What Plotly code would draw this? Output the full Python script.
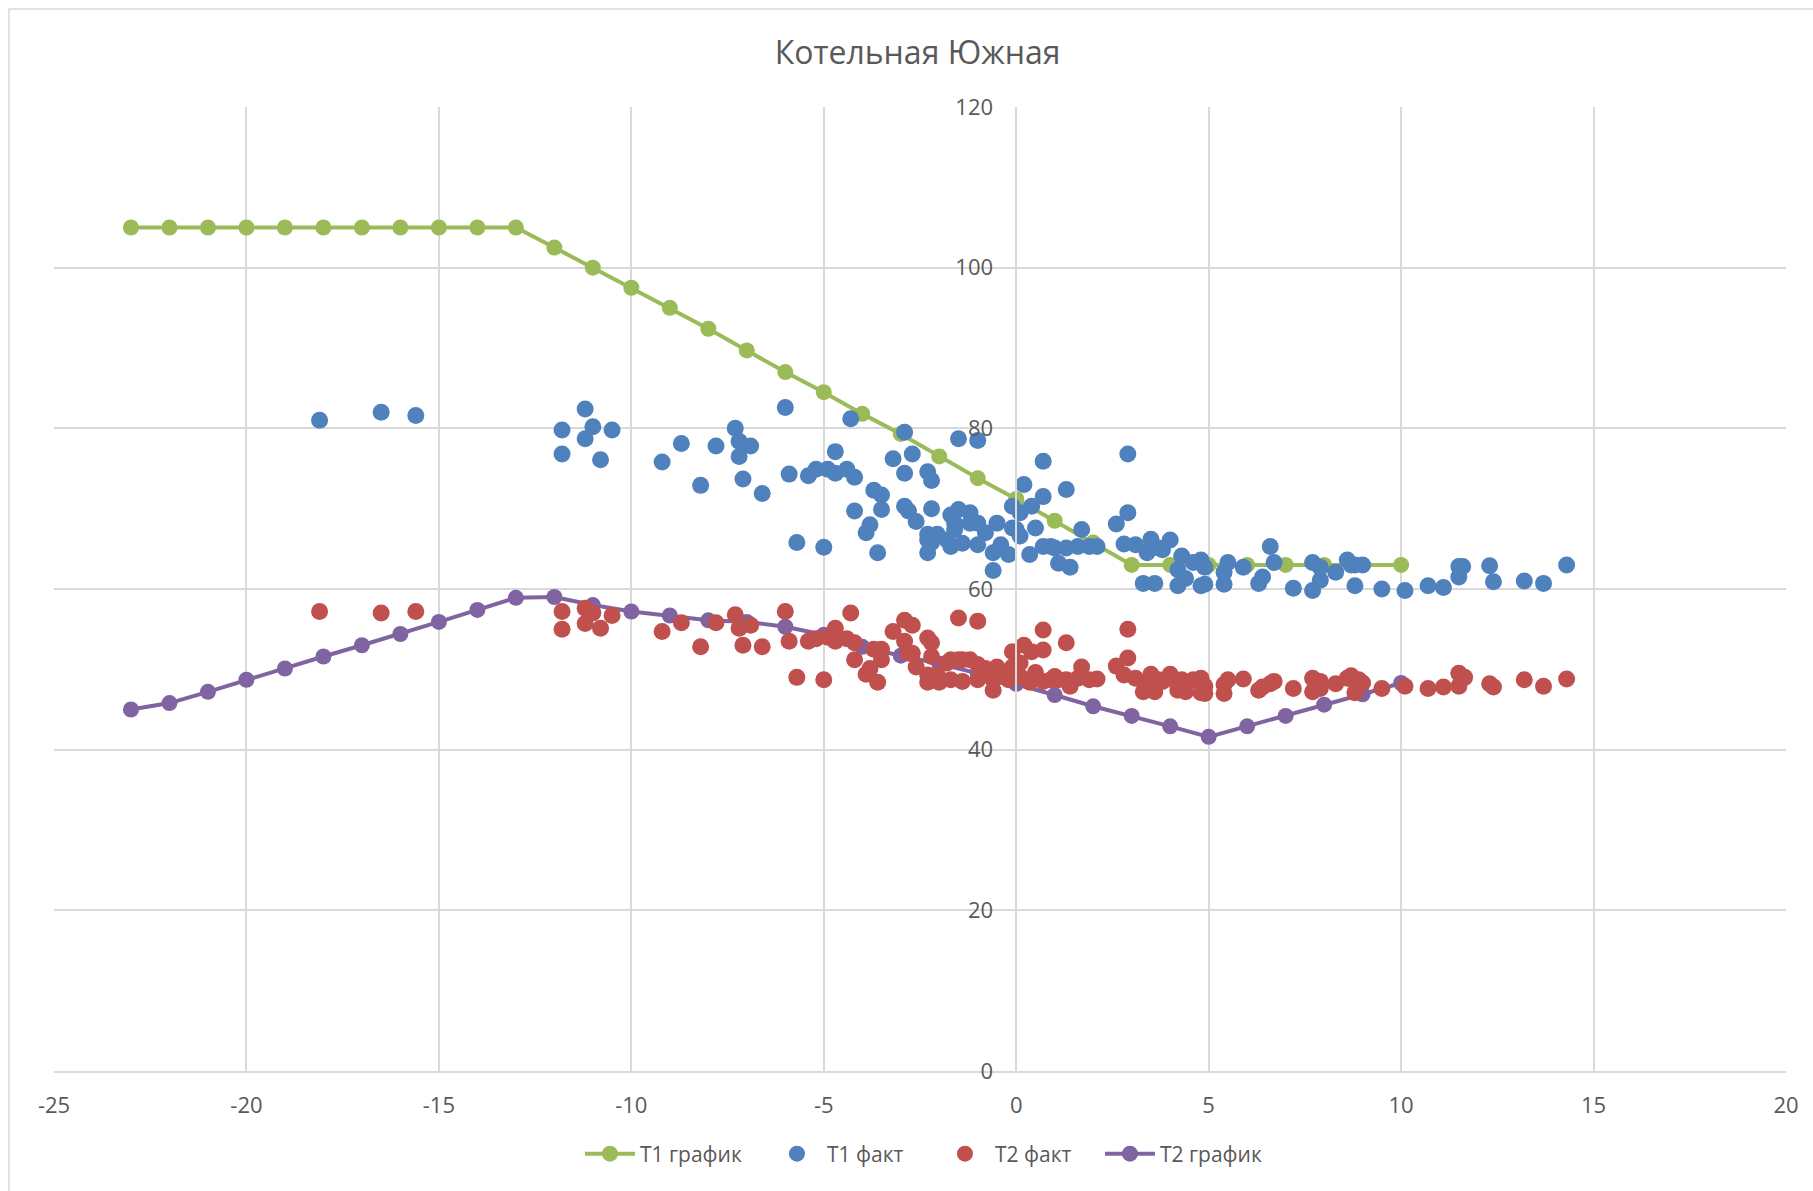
import plotly.graph_objects as go

# температурный график (по наружной температуре)
t_graph = list(range(-23, 11))
t1_graph = [105, 105, 105, 105, 105, 105, 105, 105, 105, 105, 105,
            102.5, 100, 97.5, 95, 92.4, 89.7, 87, 84.5, 81.8, 79.3,
            76.5, 73.8, 71.2, 68.5, 65.8, 63, 63, 63, 63, 63, 63, 63, 63]
t2_graph = [45, 45.8, 47.2, 48.7, 50.1, 51.6, 53.0, 54.4, 55.9, 57.4, 58.9,
            59.0, 58.0, 57.2, 56.7, 56.1, 55.9, 55.3, 54.3, 52.8, 51.7,
            50.7, 49.5, 48.2, 46.8, 45.4, 44.2, 42.9, 41.6, 42.9, 44.2, 45.6, 46.9, 48.3]

# фактические значения
t1_fact_x = [-18.1, -16.5, -15.6,
             -11.8, -11.8, -11.2, -11.0, -11.2, -10.8, -10.5,
             -9.2, -8.7, -8.2, -7.8, -7.3, -7.2, -7.2, -6.9, -7.1, -6.6, -6.0, -5.9, -5.4, -5.2, -4.9, -5.7, -5.0,
             -4.3, -4.7, -4.7, -4.4, -4.2, -4.2, -3.9, -3.8, -3.6, -3.7, -3.5, -3.5, -3.2, -2.9, -2.9, -2.7, -2.9,
             -2.8, -2.6, -2.3, -2.2, -2.2, -2.3, -2.05, -2.3, -2.2, -2.3, -1.7, -1.5, -1.5, -1.0, -1.2, -1.6, -1.6,
             -1.8, -1.7, -1.4, -1.2, -1.0, -1.0, -0.8, -0.6, -0.6, -0.5, -0.4, -0.2, -0.1, -0.1, 0.1, 0.2, 0.4,
             0.0, 0.1, 0.35, 0.5, 0.7, 0.7, 0.7, 0.9, 1.0, 1.1, 1.3, 1.3, 1.4, 1.6, 1.7, 1.9, 2.1,
             2.9, 2.9, 2.6, 2.8, 3.1, 3.5, 3.4, 3.7, 3.8, 4.0, 3.3, 3.6, 4.3, 4.2, 4.4, 4.2, 4.6, 4.8, 4.9, 4.8,
             4.9, 5.4, 5.4, 5.5, 5.9, 6.3, 6.4, 6.6, 6.7, 7.2, 7.7, 7.9, 7.9, 7.7, 8.3, 8.6, 8.8, 8.8, 8.7, 9.0,
             9.5, 10.1, 10.7, 11.1, 11.5, 11.5, 11.6, 12.3, 12.4, 13.2, 13.7, 14.3]
t1_fact_y = [81.0, 82.0, 81.6,
             79.8, 76.8, 82.4, 80.2, 78.7, 76.1, 79.8,
             75.8, 78.1, 72.9, 77.8, 80.0, 78.4, 76.5, 77.8, 73.7, 71.9, 82.6, 74.3, 74.1, 74.9, 74.9, 65.8, 65.2,
             81.2, 77.1, 74.4, 74.9, 73.9, 69.7, 67.0, 68.0, 64.5, 72.3, 71.7, 69.9, 76.2, 79.5, 74.4, 76.8, 70.3,
             69.7, 68.4, 74.6, 73.5, 70.0, 66.8, 66.8, 66.1, 65.8, 64.5, 69.2, 69.9, 78.7, 78.5, 69.5, 68.2, 67.4,
             66.1, 65.3, 65.7, 68.2, 68.2, 65.5, 67.0, 62.3, 64.5, 68.2, 65.5, 64.3, 70.3, 67.6, 69.5, 73.0, 70.3,
             67.4, 66.6, 64.3, 67.6, 71.5, 75.9, 65.3, 65.3, 65.1, 63.2, 72.4, 65.1, 62.7, 65.3, 67.4, 65.3, 65.3,
             76.8, 69.5, 68.1, 65.6, 65.5, 66.2, 64.5, 65.1, 64.9, 66.1, 60.7, 60.7, 64.1, 62.4, 61.3, 60.4, 63.3, 63.6, 62.7, 60.4,
             60.6, 60.6, 62.1, 63.3, 62.7, 60.7, 61.5, 65.3, 63.3, 60.1, 63.3, 62.7, 61.1, 59.8, 62.1, 63.6, 60.4, 63.0, 63.0, 63.0,
             60.0, 59.8, 60.4, 60.2, 61.5, 62.8, 62.8, 62.9, 60.9, 61.0, 60.7, 63.0]

t2_fact_x = [-18.1, -16.5, -15.6,
             -11.8, -11.8, -11.2, -11.0, -11.2, -10.8, -10.5,
             -9.2, -8.7, -8.2, -7.8, -7.3, -7.2, -6.9, -7.1, -6.6, -6.0, -5.9, -5.7, -5.0, -5.4, -5.2, -4.9,
             -4.7, -4.7, -4.4, -4.2, -4.3, -4.2,
             -3.9, -3.8, -3.6, -3.7, -3.5, -3.5, -3.2, -2.9, -2.7, -2.9, -2.8, -2.7, -2.6, -2.3, -2.2, -2.2,
             -2.3, -2.05, -2.3, -2.0, -1.8, -1.7, -1.5, -1.4, -1.7, -1.4, -1.5, -1.0, -1.2, -1.0, -1.0, -0.8,
             -0.6, -0.6, -0.5, -0.4, -0.1, -0.2, -0.1, 0.1, 0.2, 0.4, 0.0, 0.1, 0.35, 0.5, 0.7, 0.7, 0.7, 0.9,
             1.0, 1.1, 1.3, 1.3, 1.4, 1.6, 1.7, 1.9, 2.1,
             2.9, 2.9, 2.6, 2.8, 3.1, 3.5, 3.4, 3.3, 3.6, 3.7, 3.8, 4.0, 4.3, 4.2, 4.4, 4.2, 4.6, 4.8, 4.9, 4.9,
             4.8, 5.4, 5.4, 5.5, 5.9, 6.3, 6.4, 6.6, 6.7, 7.2, 7.7, 7.9, 7.9, 7.7, 8.3, 8.6, 8.8, 8.8, 8.7, 8.9, 9.0,
             9.5, 10.1, 10.7, 11.1, 11.5, 11.65, 11.5, 12.3, 12.4, 13.2, 13.7, 14.3]
t2_fact_y = [57.2, 57.0, 57.2,
             57.2, 55.0, 57.6, 57.0, 55.7, 55.1, 56.7,
             54.7, 55.8, 52.8, 55.8, 56.8, 55.1, 55.5, 53.0, 52.8, 57.2, 53.5, 49.0, 48.7, 53.5, 53.8, 54.0,
             55.1, 53.5, 53.8, 53.3, 57.0, 51.2,
             49.4, 50.1, 48.4, 52.5, 52.5, 51.2, 54.7, 56.1, 55.5, 53.5, 52.0, 52.0, 50.3, 53.9, 53.3, 51.6,
             49.3, 49.3, 48.4, 48.4, 50.8, 51.2, 51.2, 51.2, 48.7, 48.5, 56.4, 56.0, 51.2, 50.6, 48.7, 50.1,
             47.4, 48.7, 50.3, 49.1, 52.2, 48.7, 50.3, 50.8, 53.0, 52.2, 49.7, 49.1, 48.4, 49.6, 54.9, 52.4, 48.5, 48.7,
             49.1, 48.7, 53.3, 48.7, 47.9, 48.9, 50.3, 48.7, 48.8,
             55.0, 51.4, 50.4, 49.3, 48.9, 49.4, 48.1, 47.2, 47.2, 48.7, 48.5, 49.4, 48.7, 47.9, 47.2, 47.4, 48.7, 48.9, 47.9, 47.0,
             47.1, 47.0, 48.1, 48.7, 48.8, 47.4, 47.8, 48.2, 48.5, 47.6, 48.9, 48.5, 47.6, 47.2, 48.2, 48.9, 48.5, 47.1, 49.2, 48.7, 48.3,
             47.6, 47.9, 47.6, 47.8, 49.5, 49.0, 47.9, 48.2, 47.8, 48.7, 47.9, 48.8]

x_ticks = [-25, -20, -15, -10, -5, 0, 5, 10, 15, 20]
x_tick_labels = ["-25", "-20", "-15", "-10", "-5", "0", "5", "10", "15", "20"]

GREEN = "#9BBB59"
BLUE = "#4F81BD"
RED = "#C0504D"
PURPLE = "#8064A2"
GRID = "#D9D9D9"
TXT = "#595959"
FONT = "Open Sans"

fig = go.Figure()
fig.add_trace(go.Scatter(x=t_graph, y=t1_graph, name="Т1 график", mode="lines+markers",
                         line=dict(color=GREEN, width=4), marker=dict(color=GREEN, size=16),
                         legendrank=1, legendwidth=122))
fig.add_trace(go.Scatter(x=t_graph, y=t2_graph, name="Т2 график", mode="lines+markers",
                         line=dict(color=PURPLE, width=4), marker=dict(color=PURPLE, size=16),
                         legendrank=4))
fig.add_trace(go.Scatter(x=t1_fact_x, y=t1_fact_y, name="Т1 факт", mode="markers",
                         marker=dict(color=BLUE, size=17), legendrank=2, legendwidth=103))
fig.add_trace(go.Scatter(x=t2_fact_x, y=t2_fact_y, name="Т2 факт", mode="markers",
                         marker=dict(color=RED, size=17), legendrank=3, legendwidth=100))

fig.update_layout(
    width=1813, height=1191,
    margin=dict(l=54, r=27, t=107, b=120),
    paper_bgcolor="white", plot_bgcolor="white",
    font=dict(family=FONT, color=TXT, size=21),
    title=dict(text="Котельная Южная", xref="container", x=0.5061, xanchor="center",
               y=0.9555, yanchor="middle", font=dict(family=FONT, size=32, color=TXT)),
    legend=dict(orientation="h", x=0.502, xanchor="center", y=-0.0861, yanchor="middle",
                font=dict(size=21, color=TXT), itemwidth=50, traceorder="normal"),
    showlegend=True,
)
fig.update_xaxes(range=[-25, 20], tickvals=x_ticks, ticktext=x_tick_labels, automargin=False,
                 showgrid=True, gridcolor=GRID, gridwidth=1.5,
                 zeroline=False, showline=True, linecolor=GRID, linewidth=1.5,
                 ticks="", ticklabelstandoff=14, tickfont=dict(size=22, color=TXT))
fig.update_yaxes(range=[0, 120], dtick=20, showgrid=True, gridcolor=GRID, gridwidth=1.5,
                 zeroline=False, showline=True, linecolor=GRID, linewidth=1.5, automargin=False,
                 anchor="free", position=25 / 45, ticks="", ticklabelstandoff=18,
                 tickfont=dict(size=22, color=TXT))

# рамка области диаграммы
fig.add_shape(type="rect", xref="paper", yref="paper", x0=-0.026, y0=-0.2, x1=1.05, y1=1.1017,
              line=dict(color=GRID, width=1.5), fillcolor="rgba(0,0,0,0)", layer="below")

fig.write_html("out.html", config={"displayModeBar": False},
               post_script="document.body.style.margin = '0';")
